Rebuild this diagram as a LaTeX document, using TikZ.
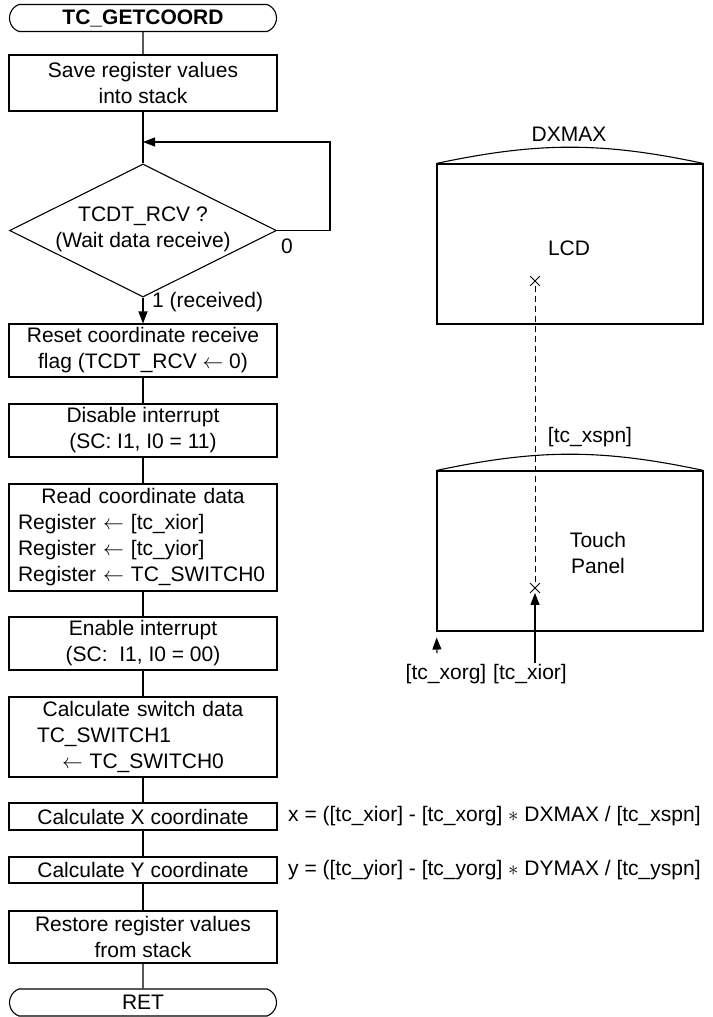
\documentclass[tikz,border=0pt]{standalone}
\usepackage{fontspec}
\setmainfont{Liberation Sans}
\usepackage{tikz}
\usetikzlibrary{positioning,calc}
\usetikzlibrary{arrows.meta,shapes.geometric,shapes.misc}
\tikzset{
  proc/.style={draw=black,line width=1.1pt,minimum width=268pt,inner sep=0pt,align=center},
  term/.style={rounded rectangle,rounded rectangle arc length=140,draw=black,line width=1.1pt,
    minimum width=267pt,minimum height=27pt,inner sep=0pt},
  decide/.style={diamond,draw=black,line width=1.1pt,minimum width=267pt,minimum height=133pt,
    inner sep=0pt,align=center},
  flow/.style={draw=black,line width=1.1pt},
  arrflow/.style={flow,-{Triangle[length=12pt,width=9pt]}},
}
\tikzset{panel/.style={draw=black,line width=1.1pt,minimum width=266pt,minimum height=160pt,inner sep=0pt}, xmark/.style={cross out,draw=black,line width=0.8pt,minimum size=9pt,inner sep=0pt},lab/.style={inner sep=0pt,align=center}}

\begin{document}
\begin{tikzpicture}[x=1pt,y=-1pt,font=\fontsize{21}{26}\selectfont]
\useasboundingbox (0,0) rectangle (712,1017);
% flow chart
\node[term] (start) at (143,18) {\textbf{TC\_GETCOORD}};
\node[proc,minimum height=56pt] (save) at (143,83) {Save register values\\into stack};
\node[decide] (dec) at (143,230.5) {};
\node[lab] (dectxt) at (143,229) {TCDT\_RCV ?\\(Wait data receive)};
\node[proc,minimum height=53pt] (reset) at (143,350.5) {Reset coordinate receive\\flag (TCDT\_RCV $\leftarrow$ 0)};
\node[proc,minimum height=53pt] (disable) at (143,430.5) {Disable interrupt\\(SC: I1, I0 = 11)};
\node[proc,minimum height=107pt,text width=250pt,align=left] (read) at (143,537.5) {\makebox[\linewidth]{Read coordinate data}\\Register $\leftarrow$ [tc\_xior]\\Register $\leftarrow$ [tc\_yior]\\Register $\leftarrow$ TC\_SWITCH0};
\node[proc,minimum height=53pt] (enable) at (143,643.5) {Enable interrupt\\(SC:\ \ I1, I0 = 00)};
\node[proc,minimum height=80pt,text width=250pt,align=left] (calcsw) at (143,737) {\makebox[\linewidth]{Calculate switch data}\\\hspace*{19pt}TC\_SWITCH1\\\hspace*{44pt}$\leftarrow$ TC\_SWITCH0};
\node[proc,minimum height=27pt] (calcx) at (143,816.5) {Calculate X coordinate};
\node[proc,minimum height=26pt] (calcy) at (143,870) {Calculate Y coordinate};
\node[proc,minimum height=52pt] (restore) at (143,937) {Restore register values\\from stack};
\node[term] (ret) at (143,1002.5) {RET};
\coordinate (join) at (143,142);
\coordinate (loopr) at (330,142);
\draw[flow] (start) -- (save);
\draw[flow] (save) -- (dec);
\draw[arrflow] (dec.east) -| (loopr) -- (join);
\draw[arrflow] (dec) -- (reset);
\draw[flow] (reset) -- (disable);
\draw[flow] (disable) -- (read);
\draw[flow] (read) -- (enable);
\draw[flow] (enable) -- (calcsw);
\draw[flow] (calcsw) -- (calcx);
\draw[flow] (calcx) -- (calcy);
\draw[flow] (calcy) -- (restore);
\draw[flow] (restore) -- (ret);
\node[lab] (zero) at (287,246) {0};
\node[lab,anchor=west] (recv) at (152,302) {1 (received)};
% formulas
\node[lab,anchor=west] (fx) at (288,816.5) {x = ([tc\_xior] - [tc\_xorg] $\ast$ DXMAX / [tc\_xspn]};
\node[lab,anchor=west] (fy) at (288,870) {y = ([tc\_yior] - [tc\_yorg] $\ast$ DYMAX / [tc\_yspn]};
% LCD and touch panel
\node[panel] (lcd) at (570,244) {};
\draw[flow] (lcd.north west) to[bend left=12] (lcd.north east);
\node[lab] (dxmax) at (569,134) {DXMAX};
\node[lab] (lcdlab) at (569,248) {LCD};
\node[xmark] (lcdpt) at (535,281) {};
\node[panel] (tp) at (570,551) {};
\draw[flow] (tp.north west) to[bend left=12] (tp.north east);
\node[lab] (xspn) at (590,437) {[tc\_xspn]};
\node[lab] (tplab) at (598,553) {Touch\\Panel};
\node[xmark] (tppt) at (535,588) {};
\draw[flow,line width=0.9pt,dash pattern=on 6pt off 4pt] (lcdpt) -- (tppt);
\coordinate (xiorbase) at (535,663);
\coordinate (xorgbase) at (437,653);
\draw[arrflow] (xiorbase) -- (tppt);
\draw[arrflow,shorten >=6pt] (xorgbase) -- (tp.south west);
\node[lab] (xorglab) at (446,674) {[tc\_xorg]};
\node[lab] (xiorlab) at (530,674) {[tc\_xior]};
\end{tikzpicture}
\end{document}
